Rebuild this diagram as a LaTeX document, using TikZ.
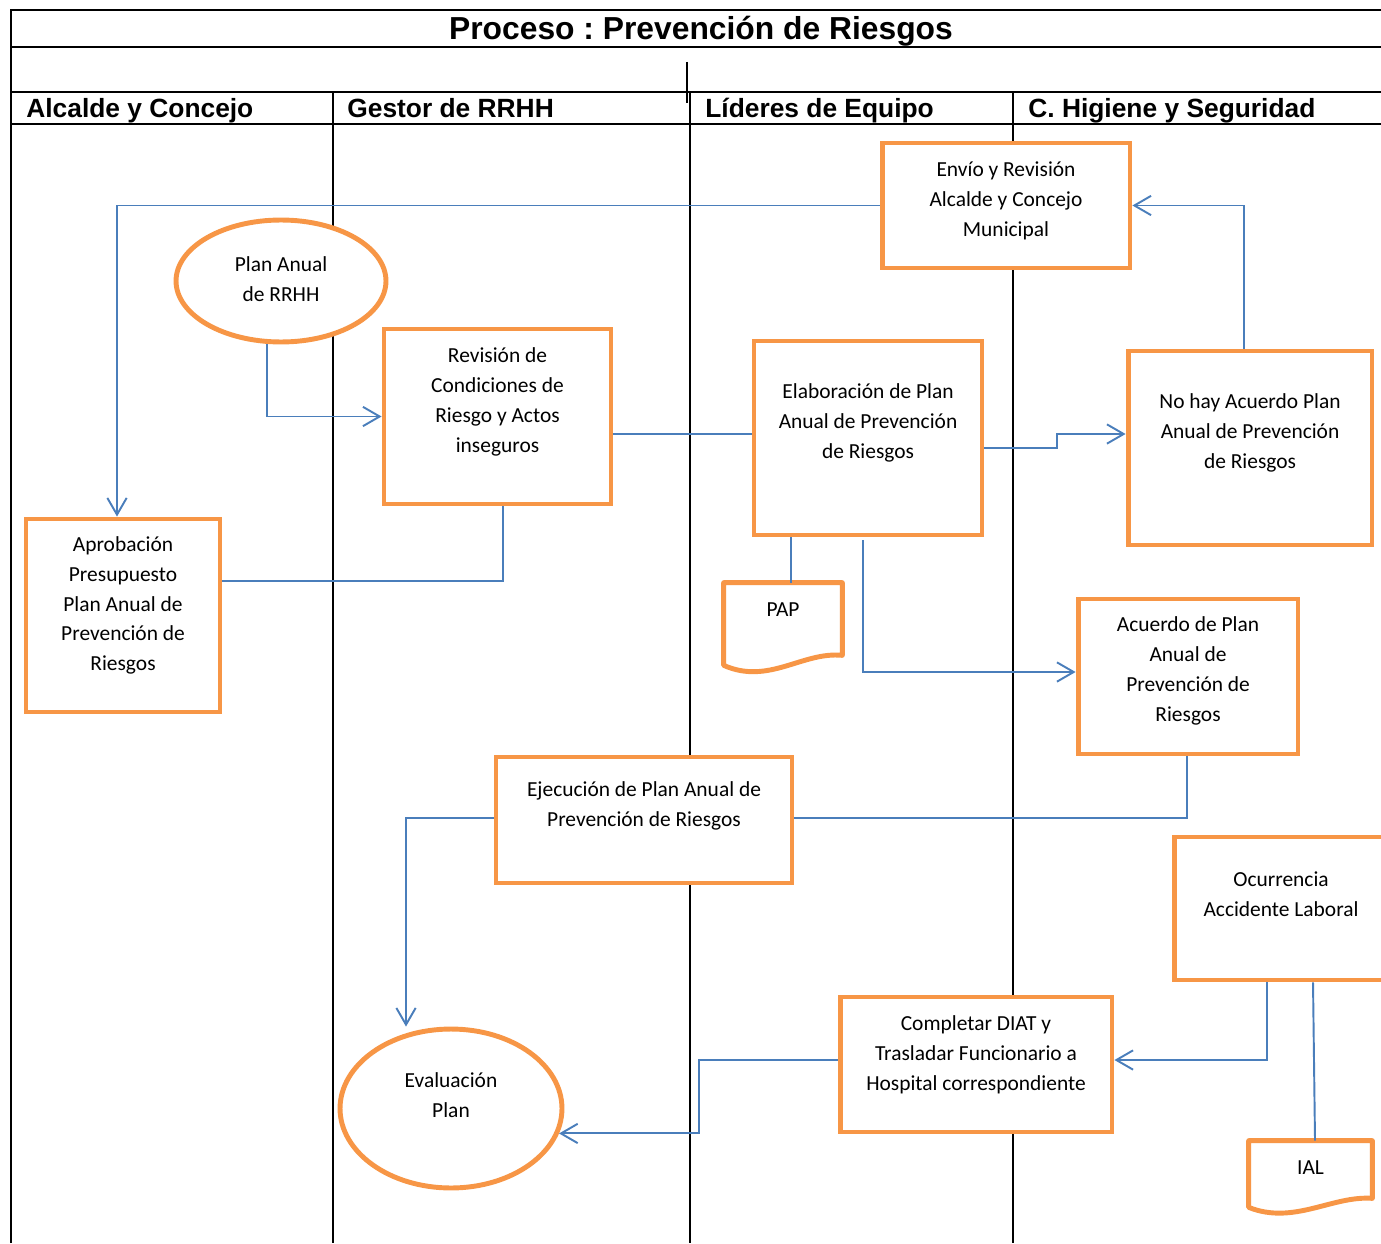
\documentclass[tikz,border=0pt]{standalone}
\usepackage{fontspec}
\setmainfont{Carlito}
\newfontfamily\headfont{Liberation Sans}
\usetikzlibrary{arrows.meta, shapes.geometric, calc}
\definecolor{boxorange}{HTML}{F79646}
\definecolor{flowblue}{HTML}{4A7EBB}
\frenchspacing
\tikzset{
  lane/.style={line width=1.1pt, black},
  stepbox/.style={draw=boxorange, fill=white, line width=2.8pt, rectangle, inner sep=0pt},
  planbox/.style={draw=boxorange, fill=white, line width=2.8pt, ellipse, inner sep=0pt},
  docbox/.style={rectangle, inner sep=0pt},
  docline/.style={draw=boxorange, fill=white, line width=2.8pt, line join=round},
  txt/.style={align=center, inner sep=0pt, font=\fontsize{12.2}{17}\selectfont},
  head/.style={anchor=base west, inner sep=0pt, font=\headfont\bfseries\fontsize{15}{18}\selectfont},
  flow/.style={draw=flowblue, line width=1.1pt},
  flowarr/.style={flow, -{Straight Barb[length=9.5pt, width=11pt]}},
}

\begin{document}
\begin{tikzpicture}[x=0.02cm, y=-0.02cm]
            \useasboundingbox (0,0) rectangle (1381,1243);

            \draw[lane] (11,1243) -- (11,10) -- (1381,10);
            \draw[lane] (11,47) -- (1381,47);
            \draw[lane] (11,92) -- (1381,92);
            \draw[lane] (11,124) -- (1381,124);
            \draw[lane] (687,62) -- (687,103);
            \draw[lane] (333,92) -- (333,1243);
            \draw[lane] (690,92) -- (690,1243);
            \draw[lane] (1013,92) -- (1013,1243);

            \node[anchor=base, inner sep=0pt, font=\headfont\bfseries\fontsize{18.1}{20}\selectfont] (title) at (701,40) {Proceso : Prevención de Riesgos};
            \node[head] (h1) at (26,118) {Alcalde y Concejo};
            \node[head] (h2) at (347,118) {Gestor de RRHH};
            \node[head] (h3) at (705,118) {Líderes de Equipo};
            \node[head] (h4) at (1028,118) {C. Higiene y Seguridad};

            \node[stepbox, minimum width=4.96cm, minimum height=2.5cm,
              label={[txt, yshift=0.1cm]center:{Envío y Revisión\\Alcalde y Concejo\\Municipal}}] (envio) at (1006,205.5) {};
            \node[planbox, minimum width=4.2cm, minimum height=2.44cm,
              label={[txt, yshift=0.04cm]center:{Plan Anual\\de RRHH}}] (plan) at (281,281) {};
            \node[stepbox, minimum width=4.54cm, minimum height=3.5cm,
              label={[txt, yshift=0.29cm]center:{Revisión de\\Condiciones de\\Riesgo y Actos\\inseguros}}] (revision) at (497.5,416.5) {};
            \node[stepbox, minimum width=4.56cm, minimum height=3.88cm,
              label={[txt, yshift=0.3cm]center:{Elaboración de Plan\\Anual de Prevención\\de Riesgos}}] (elab) at (868,438) {};
            \node[stepbox, minimum width=4.88cm, minimum height=3.88cm,
              label={[txt, yshift=0.3cm]center:{No hay Acuerdo Plan\\Anual de Prevención\\de Riesgos}}] (nohay) at (1250,448) {};
            \node[stepbox, minimum width=3.88cm, minimum height=3.86cm,
              label={[txt, yshift=0.2cm]center:{Aprobación\\Presupuesto\\Plan Anual de\\Prevención de\\Riesgos}}] (aprob) at (123,615.5) {};
            \node[docbox, minimum width=2.36cm, minimum height=1.64cm] (pap) at (783,624) {};
            \node[stepbox, minimum width=4.4cm, minimum height=3.1cm,
              label={[txt, yshift=0.11cm]center:{Acuerdo de Plan\\Anual de\\Prevención de\\Riesgos}}] (acuerdo) at (1188,676.5) {};
            \node[stepbox, minimum width=5.92cm, minimum height=2.52cm,
              label={[txt, yshift=0.29cm]center:{Ejecución de Plan Anual de\\Prevención de Riesgos}}] (ejec) at (644,820) {};
            \node[stepbox, minimum width=4.28cm, minimum height=2.86cm,
              label={[txt, yshift=0.28cm]center:{Ocurrencia\\Accidente Laboral}}] (ocurr) at (1281,908.5) {};
            \node[stepbox, minimum width=5.44cm, minimum height=2.7cm,
              label={[txt, yshift=0.2cm]center:{Completar DIAT y\\Trasladar Funcionario a\\Hospital correspondiente}}] (complet) at (976,1064.5) {};
            \node[planbox, minimum width=4.44cm, minimum height=3.18cm,
              label={[txt, yshift=0.27cm]center:{Evaluación\\Plan}}] (eval) at (451,1108.5) {};
            \node[docbox, minimum width=2.46cm, minimum height=1.32cm] (ial) at (1310.5,1174) {};

            \draw[docline] (pap.north west) -- (pap.north east) -- ($(pap.south east)+(0,-10)$)
              .. controls ($(pap.south east)+(-40,-14)$) and ($(pap.south west)+(45,20)$) .. (pap.south west) -- cycle;
            \node[txt] (paptxt) at ($(pap.center)+(0,-14)$) {PAP};
            \draw[docline] (ial.north west) -- (ial.north east) -- ($(ial.south east)+(0,-9)$)
              .. controls ($(ial.south east)+(-40,-12)$) and ($(ial.south west)+(45,18)$) .. (ial.south west) -- cycle;
            \node[txt] (ialtxt) at ($(ial.center)+(0,-6)$) {IAL};

            \draw[flowarr] (envio.west) -| ($(aprob.north)+(-6,0)$);
            \draw[flowarr] ($(plan.south)+(-14,0)$) |- (revision.west);
            \draw[flow] ($(revision.south)+(5.5,0)$) |- ($(aprob.east)+(0,-34.5)$);
            \draw[flow] ($(revision.east)+(0,17.5)$) coordinate (r1) -- (r1 -| elab.west);
            \draw[flowarr] ($(elab.east)+(0,10)$) -- ++(73,0) |- ($(nohay.west)+(0,-14)$);
            \draw[flowarr] ($(nohay.north)+(-6,0)$) |- (envio.east);
            \draw[flow] ($(elab.south)+(-77,0)$) -- ($(pap.north)+(8,0)$);
            \draw[flowarr] ($(elab.south)+(-5,3)$) |- ($(acuerdo.west)+(0,-4.5)$);
            \draw[flow] ($(acuerdo.south)+(-1,0)$) |- ($(ejec.east)+(0,-2)$);
            \draw[flowarr] ($(ejec.west)+(0,-2)$) -| ($(eval.north)+(-45,0)$);
            \draw[flowarr] ($(ocurr.south)+(-14,0)$) |- ($(complet.east)+(0,-4.5)$);
            \draw[flow] ($(ocurr.south)+(32,0)$) -- ($(ial.north)+(4.5,0)$);
            \draw[flowarr] ($(complet.west)+(0,-4.5)$) -- ++(-139,0) |- (eval.-13);
        \end{tikzpicture}
\end{document}
